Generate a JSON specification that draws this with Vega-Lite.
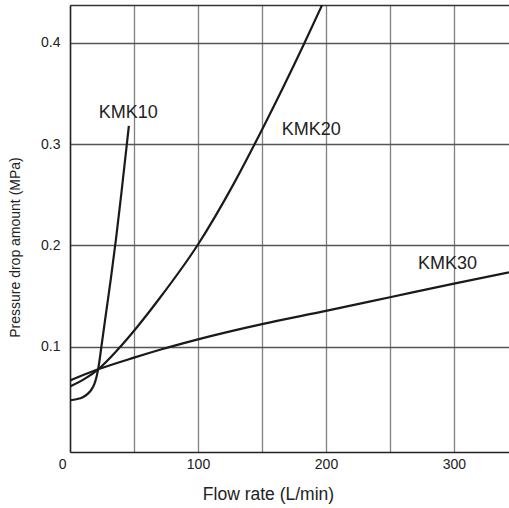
{
  "$schema": "https://vega.github.io/schema/vega-lite/v6.json",
  "width": 439,
  "height": 447,
  "autosize": {"type": "none"},
  "padding": {"left": 70, "top": 5, "right": 0, "bottom": 56},
  "background": "white",
  "config": {
    "view": {"stroke": null},
    "font": "Liberation Sans",
    "axis": {"labelFont": "Liberation Sans", "titleFont": "Liberation Sans", "labelColor": "#222", "titleColor": "#222", "titleFontWeight": "normal"}
  },
  "datasets": {
    "curves": [
      {"series": "KMK10", "flow": 0, "dp": 0.0475},
      {"series": "KMK10", "flow": 5, "dp": 0.0485},
      {"series": "KMK10", "flow": 10, "dp": 0.0505},
      {"series": "KMK10", "flow": 14, "dp": 0.054},
      {"series": "KMK10", "flow": 17, "dp": 0.0585},
      {"series": "KMK10", "flow": 19, "dp": 0.0635},
      {"series": "KMK10", "flow": 20.8, "dp": 0.071},
      {"series": "KMK10", "flow": 22.7, "dp": 0.0835},
      {"series": "KMK10", "flow": 24.5, "dp": 0.100},
      {"series": "KMK10", "flow": 28, "dp": 0.132},
      {"series": "KMK10", "flow": 32, "dp": 0.168},
      {"series": "KMK10", "flow": 36, "dp": 0.207},
      {"series": "KMK10", "flow": 40, "dp": 0.250},
      {"series": "KMK10", "flow": 46, "dp": 0.318},
      {"series": "KMK20", "flow": 0, "dp": 0.061},
      {"series": "KMK20", "flow": 12, "dp": 0.069},
      {"series": "KMK20", "flow": 22, "dp": 0.078},
      {"series": "KMK20", "flow": 37, "dp": 0.097},
      {"series": "KMK20", "flow": 52, "dp": 0.119},
      {"series": "KMK20", "flow": 70, "dp": 0.148},
      {"series": "KMK20", "flow": 100, "dp": 0.201},
      {"series": "KMK20", "flow": 128, "dp": 0.261},
      {"series": "KMK20", "flow": 150, "dp": 0.314},
      {"series": "KMK20", "flow": 183, "dp": 0.399},
      {"series": "KMK20", "flow": 197, "dp": 0.437},
      {"series": "KMK30", "flow": 0, "dp": 0.067},
      {"series": "KMK30", "flow": 22, "dp": 0.078},
      {"series": "KMK30", "flow": 50, "dp": 0.0895},
      {"series": "KMK30", "flow": 71, "dp": 0.0975},
      {"series": "KMK30", "flow": 100, "dp": 0.1075},
      {"series": "KMK30", "flow": 150, "dp": 0.1225},
      {"series": "KMK30", "flow": 200, "dp": 0.1355},
      {"series": "KMK30", "flow": 250, "dp": 0.149},
      {"series": "KMK30", "flow": 300, "dp": 0.1625},
      {"series": "KMK30", "flow": 343, "dp": 0.1735}
    ],
    "labels": [
      {"label": "KMK10", "flow": 45.5, "dp": 0.331},
      {"label": "KMK20", "flow": 188.5, "dp": 0.3135},
      {"label": "KMK30", "flow": 295, "dp": 0.1815}
    ]
  },
  "resolve": {"axis": {"x": "independent"}},
  "layer": [
    {
      "data": {"name": "curves"},
      "mark": {"type": "line", "interpolate": "monotone", "strokeWidth": 2.2, "clip": true},
      "encoding": {
        "x": {
          "field": "flow", "type": "quantitative",
          "scale": {"domain": [0, 343], "nice": false, "zero": false},
          "axis": {
            "title": "Flow rate (L/min)",
            "titleFontSize": 17.5,
            "titleX": 198,
            "titleY": 47,
            "titleBaseline": "alphabetic",
            "titleAlign": "center",
            "values": [0, 50, 100, 150, 200, 250, 300],
            "labelExpr": "datum.value % 100 === 0 ? datum.label : ''",
            "labelFontSize": 14,
            "labelPadding": 5,
            "labelAlign": {"condition": {"test": "datum.value === 0", "value": "right"}, "value": "center"},
            "labelOffset": {"condition": {"test": "datum.value === 0", "value": -4}, "value": 0},
            "ticks": false,
            "tickSize": 0,
            "grid": true,
            "gridColor": "#808080",
            "gridWidth": 1.3,
            "gridOpacity": 1,
            "domainColor": "#222",
            "domainWidth": 1.5
          }
        },
        "y": {
          "field": "dp", "type": "quantitative",
          "scale": {"domain": [-0.0035, 0.437], "nice": false, "zero": false},
          "axis": {
            "title": "Pressure drop amount (MPa)",
            "titleFontSize": 14,
            "titleAngle": -90,
            "titleX": -55,
            "titleY": 242,
            "titleBaseline": "middle",
            "titleAlign": "center",
            "values": [0.1, 0.2, 0.3, 0.4],
            "format": ".1f",
            "labelFontSize": 14,
            "labelPadding": 10,
            "ticks": false,
            "tickSize": 0,
            "grid": true,
            "gridColor": "#555",
            "gridWidth": 1.3,
            "gridOpacity": 1,
            "domainColor": "#222",
            "domainWidth": 1.5
          }
        },
        "color": {"field": "series", "type": "nominal", "scale": {"range": ["#1a1a1a", "#1a1a1a", "#1a1a1a"]}, "legend": null},
        "detail": {"field": "series"}
      }
    },
    {
      "data": {"name": "labels"},
      "mark": {"type": "text", "fontSize": 18, "font": "Liberation Sans", "color": "#222", "align": "center", "baseline": "middle"},
      "encoding": {
        "x": {
          "field": "flow", "type": "quantitative",
          "axis": {"orient": "top", "labels": false, "ticks": false, "grid": false, "title": null, "domainColor": "#333", "domainWidth": 1.5}
        },
        "y": {"field": "dp", "type": "quantitative"},
        "text": {"field": "label"}
      }
    }
  ]
}
